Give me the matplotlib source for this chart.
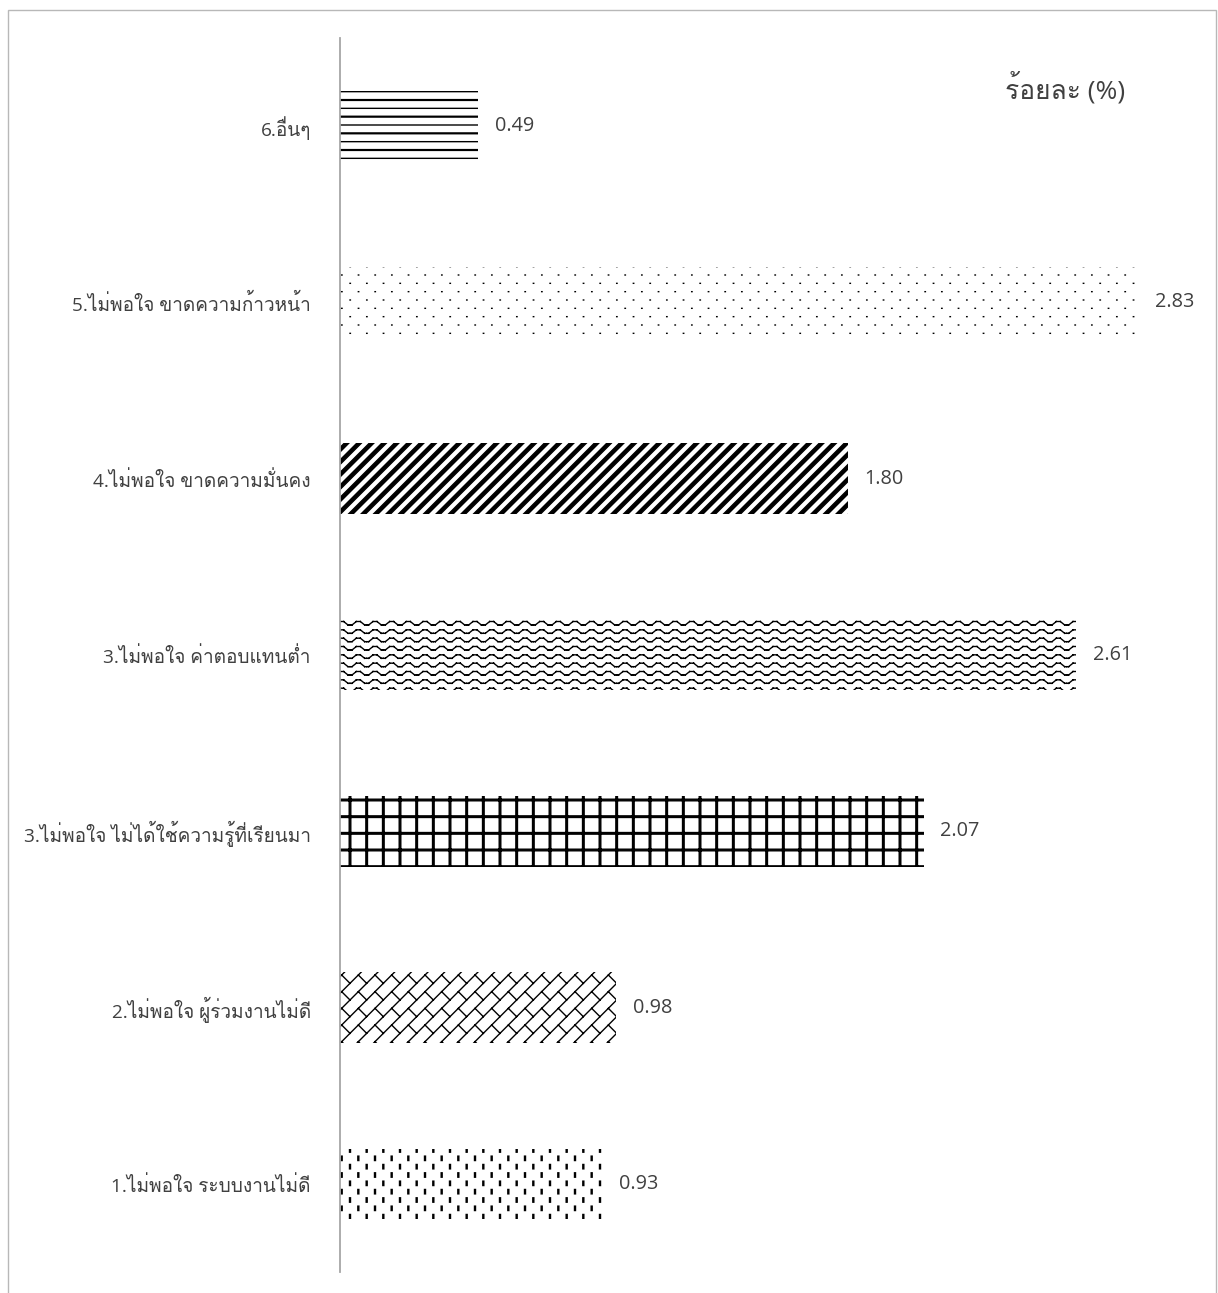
import warnings
import numpy as np
import matplotlib
matplotlib.use("Agg")
import matplotlib.pyplot as plt
import matplotlib.hatch as mhatch
from matplotlib.path import Path
from matplotlib.patches import Rectangle
from matplotlib import font_manager
from matplotlib.ft2font import FT2Font

warnings.filterwarnings("ignore", message="hatch must consist")

# data (bottom -> top)
labels = [
    "1.ไม่พอใจ ระบบงานไม่ดี",
    "2.ไม่พอใจ ผู้ร่วมงานไม่ดี",
    "3.ไม่พอใจ ไม่ได้ใช้ความรู้ที่เรียนมา",
    "3.ไม่พอใจ ค่าตอบแทนต่ำ",
    "4.ไม่พอใจ ขาดความมั่นคง",
    "5.ไม่พอใจ ขาดความก้าวหน้า",
    "6.อื่นๆ",
]
values = [0.93, 0.98, 2.07, 2.61, 1.80, 2.83, 0.49]
hatches = ["a", "b", "c", "d", "e", "f", "g"]
unit_label = "ร้อยละ (%)"


# find a font that can draw Thai
def thai_font():
    for f in font_manager.fontManager.ttflist:
        try:
            if 0x0E44 in FT2Font(f.fname).get_charmap():
                return f.name
        except Exception:
            pass
    return "DejaVu Sans"


THAI = thai_font()
plt.rcParams["font.family"] = ["Open Sans", THAI, "DejaVu Sans"]
plt.rcParams["hatch.linewidth"] = 1.0
plt.rcParams["hatch.color"] = "black"


# ---- excel-like fill patterns as custom hatches (unit tile) ----
def segs(pairs):
    v = np.array(pairs, dtype=float).reshape(-1, 2)
    c = np.tile([Path.MOVETO, Path.LINETO], len(pairs)).astype(Path.code_type)
    return v, c


def polys(quads):
    v, c = [], []
    for q in quads:
        v += list(q) + [q[0]]
        c += [Path.MOVETO, Path.LINETO, Path.LINETO, Path.LINETO, Path.CLOSEPOLY]
    return np.array(v, dtype=float), np.array(c, dtype=Path.code_type)


def rect(x0, y0, x1, y1):
    return [(x0, y0), (x1, y0), (x1, y1), (x0, y1)]


c6 = 1 / 6
pat = {}

# short vertical dashes
pat["a"] = polys([rect(k / 12 - 0.005, j * c6 + (k % 2) / 12 - 0.022,
                       k / 12 + 0.005, j * c6 + (k % 2) / 12 + 0.022)
                  for k in range(-1, 14) for j in range(-1, 8)])

# diagonal brick
brick = [((k * c6, 0), (k * c6 + 1, 1)) for k in range(-7, 8)]
brick += [((i * c6 + c6 / 2, j * c6 + c6 / 2), (i * c6 + c6, j * c6))
          for i in range(-1, 7) for j in range(-1, 7)]
pat["b"] = segs(brick)

# bold grid
grid = [rect(k * c6 - 0.008, -0.05, k * c6 + 0.008, 1.05) for k in range(-1, 8)]
grid += [rect(-0.05, k * c6 - 0.008, 1.05, k * c6 + 0.008) for k in range(-1, 8)]
pat["c"] = polys(grid)

# wave
wave = []
amp = 0.035
for j in range(-1, 14):
    y = j / 12
    for i in range(-1, 7):
        x0 = i * c6
        pts = [(x0, y), (x0 + c6 * 0.12, y), (x0 + c6 * 0.38, y + amp),
               (x0 + c6 * 0.62, y + amp), (x0 + c6 * 0.88, y), (x0 + c6, y)]
        wave += list(zip(pts[:-1], pts[1:]))
pat["d"] = segs(wave)

# wide upward diagonal
w = 0.045
pat["e"] = polys([[(k / 8, 0), (k / 8 + w, 0), (k / 8 + w + 1, 1), (k / 8 + 1, 1)]
                  for k in range(-9, 10)])

# sparse dots
pat["f"] = segs([((i * c6 + (j % 2) / 12, j / 12),
                  (i * c6 + (j % 2) / 12 + 0.004, j / 12))
                 for i in range(-1, 8) for j in range(-1, 14)])

# horizontal lines, alternating weight
hl = polys([rect(-0.05, j / 12 - 0.004, 1.05, j / 12 + 0.004)
            for j in range(-2, 14, 2)])
hs = segs([((-0.05, j / 12), (1.05, j / 12)) for j in range(-1, 14, 2)])
pat["g"] = (np.concatenate([hl[0], hs[0]]), np.concatenate([hl[1], hs[1]]))


class ExcelHatch(mhatch.HatchPatternBase):
    def __init__(self, hatch, density):
        self.parts = [pat[ch] for ch in hatch if ch in pat]
        self.num_vertices = sum(len(p[0]) for p in self.parts)

    def set_vertices_and_codes(self, vertices, codes):
        if self.parts:
            vertices[:] = np.concatenate([p[0] for p in self.parts])
            codes[:] = np.concatenate([p[1] for p in self.parts])


mhatch._hatch_types.append(ExcelHatch)

# ---- figure ----
W, H = 1218, 1293
fig = plt.figure(figsize=(W / 100, H / 100), dpi=100)
fig.add_artist(Rectangle((8 / W, -0.1), (1216 - 8) / W, (H - 10) / H + 0.1,
                         transform=fig.transFigure, fill=False,
                         ec="#b8b8b8", lw=1.0))

ax = fig.add_axes([340 / W, 1 - 1272 / H, 850 / W, (1272 - 38) / H])
y = np.arange(len(values))
bars = ax.barh(y, values, height=0.4, color="white", edgecolor="black",
               linewidth=0)
for b, h in zip(bars, hatches):
    b.set_hatch(h)

ax.set_xlim(0, 850 / 282)
ax.set_ylim(-0.5, len(values) - 0.5)
for s in ["top", "right", "bottom"]:
    ax.spines[s].set_visible(False)
ax.spines["left"].set_color("#a6a6a6")
ax.spines["left"].set_linewidth(1.3)
ax.set_xticks([])
ax.set_yticks(y)
ax.set_yticklabels(labels, fontsize=13.7, color="#404040")
ax.tick_params(axis="y", length=0, pad=21)

for yi, v in zip(y, values):
    ax.annotate(f"{v:.2f}", (v, yi), xytext=(12, 0), textcoords="offset points",
                va="center", ha="left", fontsize=14.3, color="#404040")

fig.text(1005 / W, 1 - 88 / H, unit_label, fontsize=19, color="#404040",
         va="center", ha="left")

fig.savefig("out.png", dpi=100)
